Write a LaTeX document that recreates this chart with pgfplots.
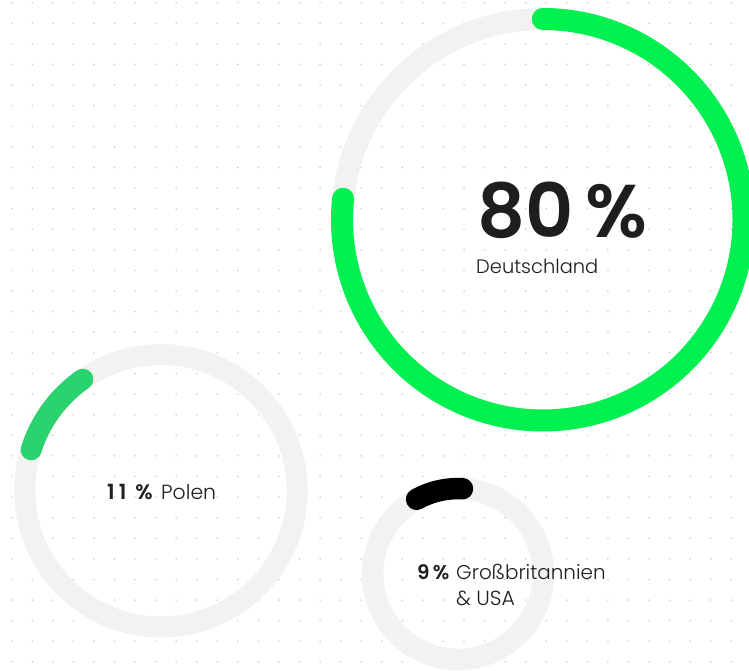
\documentclass[border=0pt]{standalone}
\usepackage{fontspec}
\setmainfont{Poppins}[BoldFont={Poppins SemiBold}]
\newfontfamily\lightfont{Poppins Light}
\usepackage{pgfplots}
\pgfplotsset{compat=1.18}
\definecolor{ringgray}{RGB}{242,242,240}
\definecolor{biggreen}{RGB}{0,240,80}
\definecolor{polgreen}{RGB}{42,211,110}
\definecolor{txt}{RGB}{30,30,30}
\definecolor{dotgray}{RGB}{205,205,205}
\begin{document}
\begin{tikzpicture}[x=1bp,y=1bp]
\fill[white] (0,0) rectangle (749,671);
\foreach \i in {0,...,35}{\foreach \j in {0,...,32}{\fill[dotgray] ({11.7+20.56*\i},{671-2.7-20.6*\j}) circle[radius=0.9];}}
\begin{axis}[at={(0,0)}, anchor=south west, width=749bp, height=671bp, scale only axis,
  xmin=0, xmax=749, ymin=0, ymax=671, y dir=reverse, hide axis, clip=true]
% Deutschland 80 %
\addplot[ringgray, line width=22bp, domain=0:360, samples=241] ({542.75+200.75*cos(x)},{219.75-200.75*sin(x)});
\addplot[biggreen, line width=22bp, line cap=round, domain=-186:90, samples=200] ({542.75+200.75*cos(x)},{219.75-200.75*sin(x)});
% Polen 11 %
\addplot[ringgray, line width=21bp, domain=0:360, samples=181] ({161+136.2*cos(x)},{490.75-136.2*sin(x)});
\addplot[polgreen, line width=21bp, line cap=round, domain=125:162.5, samples=40] ({161+136.2*cos(x)},{490.75-136.2*sin(x)});
% GB & USA 9 %
\addplot[ringgray, line width=21.5bp, domain=0:360, samples=181] ({458+85.4*cos(x)},{574-85.4*sin(x)});
\addplot[black, line width=21.5bp, line cap=round, domain=87:119, samples=40] ({458+85.4*cos(x)},{574-85.4*sin(x)});
\node[anchor=base west, inner sep=0, text=txt] at (axis cs:477,238) {\fontsize{75}{75}\selectfont\bfseries 80\,\%};
\node[anchor=base west, inner sep=0, text=txt] at (axis cs:476,274) {\fontsize{19.5}{19.5}\selectfont\lightfont Deutschland};
\node[anchor=base west, inner sep=0, text=txt] at (axis cs:107,499) {\fontsize{21}{21}\selectfont\bfseries 1\kern4bp1\kern9bp\%};
\node[anchor=base west, inner sep=0, text=txt] at (axis cs:161,499) {\fontsize{20.5}{20.5}\selectfont\lightfont Polen};
\node[anchor=base west, inner sep=0, text=txt] at (axis cs:417,579) {\fontsize{20}{20}\selectfont\bfseries 9\,\%};
\node[anchor=base west, inner sep=0, text=txt] at (axis cs:456,579) {\fontsize{20}{20}\selectfont\lightfont Großbritannien};
\node[anchor=base west, inner sep=0, text=txt] at (axis cs:456,605) {\fontsize{20.5}{20.5}\selectfont\lightfont \&\ USA};
\end{axis}
\pgfresetboundingbox
\path[use as bounding box] (0,0) rectangle (749,671);
\end{tikzpicture}
\end{document}
